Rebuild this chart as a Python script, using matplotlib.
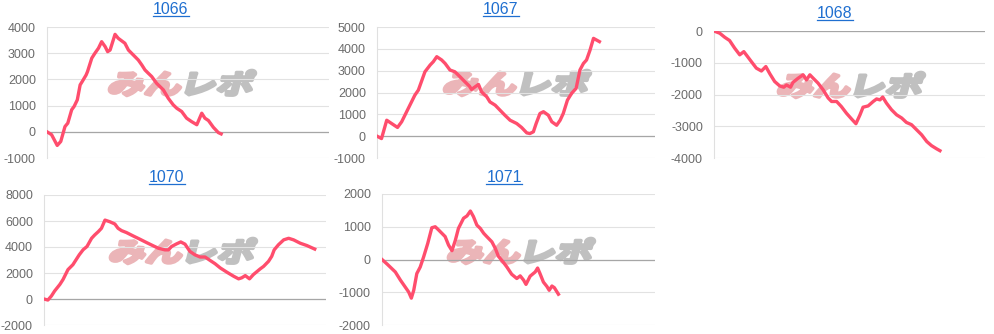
import matplotlib
matplotlib.use('Agg')
import matplotlib.pyplot as plt
from matplotlib.textpath import TextPath
from matplotlib.patches import PathPatch
from matplotlib.font_manager import FontProperties
from matplotlib.transforms import Affine2D, IdentityTransform
from matplotlib.lines import Line2D

plt.rcParams['font.family'] = ['Liberation Sans', 'DejaVu Sans']
plt.rcParams['axes.unicode_minus'] = False

# machine numbers
titles = ['1066', '1067', '1068', '1070', '1071']

# games played vs. coin difference
games_1066 = [0, 130, 290, 390, 510, 590, 700, 770, 860, 940, 1000, 1110, 1150, 1270, 1360,
              1460, 1550, 1650, 1720, 1790, 1930, 2020, 2150, 2210, 2310, 2450, 2590, 2690,
              2780, 2870, 2970, 3110, 3300, 3440, 3580, 3680, 3820, 3960, 4100, 4250, 4390,
              4480, 4580, 4720, 4860, 4940]
diff_1066 = [0, -110, -520, -370, 200, 330, 840, 970, 1220, 1790, 1920, 2170, 2300, 2810, 3000,
             3190, 3440, 3250, 3060, 3120, 3720, 3570, 3440, 3380, 3120, 2930, 2740, 2550,
             2360, 2240, 2110, 1850, 1600, 1280, 1030, 900, 775, 520, 390, 270, 710,
             520, 430, 170, -30, -80]

games_1067 = [0, 130, 280, 420, 590, 710, 900, 1090, 1190, 1380, 1530, 1620, 1720, 1860, 1960,
              2100, 2240, 2390, 2530, 2660, 2720, 2920, 3010, 3160, 3250, 3400, 3540, 3680,
              3830, 4020, 4160, 4310, 4400, 4500, 4580, 4690, 4790, 4930, 5030, 5170, 5270,
              5360, 5480, 5600, 5730, 5840, 5940, 6030, 6130, 6230, 6400]
diff_1067 = [0, -110, 730, 580, 400, 660, 1270, 1880, 2110, 2950, 3260, 3410, 3640, 3490, 3330,
             3030, 2950, 2720, 2490, 2290, 2140, 2370, 2030, 1800, 1570, 1420, 1190, 960,
             730, 580, 400, 150, 120, 200, 580, 1040, 1120, 960, 660, 500, 730,
             1040, 1650, 1960, 2190, 3030, 3330, 3490, 3940, 4480, 4330]

games_1068 = [0, 170, 320, 460, 610, 760, 880, 980, 1100, 1250, 1400, 1530, 1650, 1790, 1940,
              2060, 2140, 2260, 2330, 2480, 2630, 2730, 2830, 2930, 3070, 3220, 3370, 3470,
              3620, 3760, 3910, 4060, 4190, 4310, 4400, 4550, 4700, 4800, 4900, 4980, 5090,
              5240, 5390, 5540, 5680, 5830, 5980, 6130, 6280, 6420, 6570, 6670]
diff_1068 = [0, -70, -200, -300, -540, -750, -650, -790, -960, -1170, -1260, -1120, -1350, -1590,
             -1730, -1770, -1700, -1770, -1620, -1490, -1380, -1540, -1380, -1490, -1640, -1850,
             -2110, -2220, -2220, -2380, -2590, -2770, -2920, -2640, -2400, -2360, -2220, -2140,
             -2170, -2080, -2270, -2480, -2640, -2740, -2880, -2950, -3110, -3270, -3480, -3610,
             -3710, -3770]

games_1070 = [0, 110, 210, 300, 450, 540, 680, 820, 1000, 1110, 1220, 1350, 1440, 1540, 1630,
              1730, 1870, 2010, 2100, 2200, 2340, 2530, 2720, 2910, 3100, 3240, 3430, 3530,
              3620, 3760, 3880, 4000, 4140, 4280, 4430, 4570, 4710, 4850, 5000, 5190, 5380,
              5520, 5610, 5710, 5830, 5940, 6130, 6230, 6370, 6460, 6530, 6650, 6800, 6940,
              7080, 7270, 7460, 7680]
diff_1070 = [0, -80, 230, 610, 1120, 1500, 2260, 2640, 3400, 3790, 4040, 4670, 4930, 5180, 5440,
             6070, 5940, 5770, 5440, 5260, 5110, 4850, 4600, 4340, 4090, 3910, 3780, 3780,
             4040, 4240, 4390, 4220, 3660, 3400, 3230, 3230, 2970, 2720, 2390, 2060, 1750,
             1550, 1630, 1800, 1550, 1880, 2310, 2510, 2900, 3280, 3780, 4170, 4550, 4670,
             4550, 4290, 4110, 3840]

games_1071 = [0, 150, 290, 390, 540, 680, 780, 860, 930, 1020, 1120, 1220, 1340, 1460, 1560,
              1660, 1850, 1950, 2050, 2150, 2240, 2390, 2490, 2590, 2680, 2780, 2880, 2980,
              3070, 3220, 3320, 3410, 3560, 3660, 3800, 3950, 4050, 4150, 4220, 4340, 4490,
              4560, 4630, 4730, 4830, 4900, 4980, 5050, 5170]
diff_1071 = [0, -140, -280, -380, -630, -840, -990, -1180, -940, -430, -230, 80, 490, 970, 1000,
             900, 700, 440, 270, 590, 950, 1260, 1330, 1480, 1310, 1050, 950, 800,
             700, 540, 340, 100, -90, -230, -450, -580, -500, -630, -760, -510, -380,
             -260, -430, -690, -820, -940, -810, -860, -1060]

yticks_1066 = [-1000, 0, 1000, 2000, 3000, 4000]
yticks_1067 = [-1000, 0, 1000, 2000, 3000, 4000, 5000]
yticks_1068 = [-4000, -3000, -2000, -1000, 0]
yticks_1070 = [-2000, 0, 2000, 4000, 6000, 8000]
yticks_1071 = [-2000, -1000, 0, 1000, 2000]

games_max = 8000

W, H = 994, 334
fig = plt.figure(figsize=(W / 100, H / 100), dpi=100)

# layout in pixels: (left, right, top, bottom), title centre, watermark centre
panels = [
    (games_1066, diff_1066, yticks_1066, (47, 329, 27, 158), (171, 9), (182, 83)),
    (games_1067, diff_1067, yticks_1067, (377, 655, 27, 158), (501, 9), (517, 83)),
    (games_1068, diff_1068, yticks_1068, (714, 985, 31, 158), (835, 13), (851, 85)),
    (games_1070, diff_1070, yticks_1070, (44, 326, 195, 325), (167, 177), (183, 251)),
    (games_1071, diff_1071, yticks_1071, (382, 655, 194, 325), (504, 177), (521, 251)),
]

fp_mark = FontProperties(family='Noto Sans CJK JP', weight='bold')


def watermark(ax, cx, cy):
    p1 = TextPath((0, 0), 'みん', size=1, prop=fp_mark)
    p2 = TextPath((1.95, 0), 'レポ', size=1, prop=fp_mark)
    b1 = p1.get_extents()
    b2 = p2.get_extents()
    x0, x1 = b1.x0, b2.x1
    y0, y1 = min(b1.y0, b2.y0), max(b1.y1, b2.y1)
    t = (Affine2D().translate(-(x0 + x1) / 2, -(y0 + y1) / 2)
         .scale(142 / (x1 - x0), 25 / (y1 - y0))
         .skew_deg(14, 0)
         .translate(cx, H - cy))
    for p, c in [(p1, '#ebb5b8'), (p2, '#c0c0c0')]:
        patch = PathPatch(p, transform=t, facecolor=c, edgecolor=c, lw=2.6,
                          joinstyle='round', zorder=1.5)
        ax.add_patch(patch)


title_texts = []
for i, (gx, gy, ticks, (l, r, t, b), (tx, ty), (mx, my)) in enumerate(panels):
    ax = fig.add_axes([l / W, 1 - b / H, (r - l) / W, (b - t) / H])
    ax.patch.set_alpha(0)
    watermark(ax, mx, my)
    ax.plot(gx, gy, color='#ff4d6d', lw=2.4, solid_joinstyle='round', zorder=3)
    ax.set_xlim(0, games_max)
    ax.set_ylim(ticks[0], ticks[-1])
    ax.set_yticks(ticks)
    ax.set_xticks([])
    ax.grid(axis='y', color='#e2e2e2', lw=0.8)
    ax.axhline(0, color='#a6a6a6', lw=0.9, zorder=2)
    for s in ['top', 'right', 'bottom']:
        ax.spines[s].set_visible(False)
    ax.spines['left'].set_color('#e0e0e0')
    ax.spines['left'].set_linewidth(0.8)
    ax.tick_params(axis='y', length=0, pad=8, labelsize=9, labelcolor='#6b6b6b')
    txt = fig.text(tx / W, 1 - ty / H, titles[i], ha='center', va='center',
                   fontsize=11.5, color='#1f6fd0')
    title_texts.append(txt)

# underline the titles like links
fig.canvas.draw()
for txt in title_texts:
    bb = txt.get_window_extent()
    fig.add_artist(Line2D([bb.x0, bb.x1], [bb.y0 + 1, bb.y0 + 1],
                          transform=IdentityTransform(), color='#1f6fd0', lw=0.9))

fig.savefig('out.png', dpi=100)
